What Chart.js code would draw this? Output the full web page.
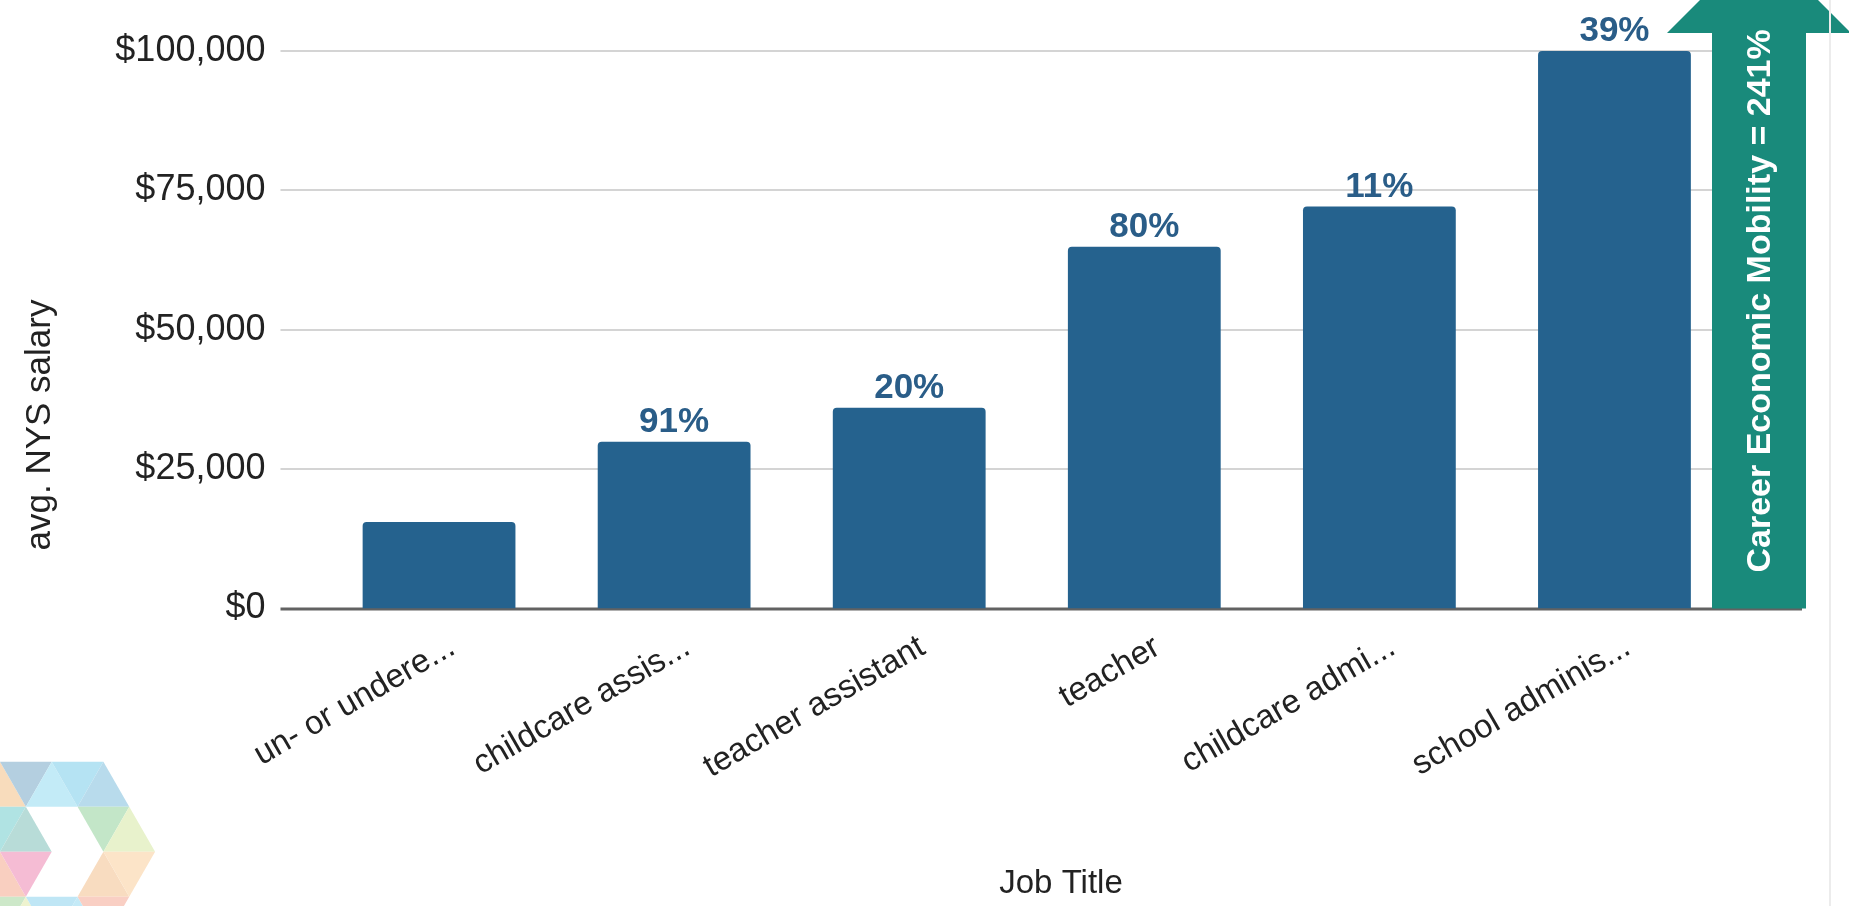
<!DOCTYPE html>
<html>
<head>
<meta charset="utf-8">
<script src="https://cdn.jsdelivr.net/npm/chart.js@4"></script>
<style>
  html, body { margin: 0; padding: 0; background: #fff; }
  #wrap { width: 1849px; height: 906px; position: relative; }
</style>
</head>
<body>
<div id="wrap"><canvas id="salaryChart"></canvas></div>
<script>
// data
const jobTitles = ['un- or undere...', 'childcare assis...', 'teacher assistant', 'teacher', 'childcare admi...', 'school adminis...'];
const avgSalary = [15500, 29900, 36000, 64900, 72100, 100000];
const stepChange = ['', '91%', '20%', '80%', '11%', '39%'];
const yTicks = [0, 25000, 50000, 75000, 100000];
const mobilityText = 'Career Economic Mobility = 241%';
const xTitle = 'Job Title';
const yTitle = 'avg. NYS salary';

const FONT = "'Liberation Sans', Arial, sans-serif";
const BAR = '#25628e';
const TEAL = '#198a7b';

// horizontal grid lines, a bit wider than the plot like the original
const gridLines = {
  id: 'gridLines',
  beforeDatasetsDraw(chart) {
    const { ctx, chartArea } = chart;
    const y = chart.scales.y;
    ctx.save();
    y.ticks.forEach(t => {
      const py = Math.round(y.getPixelForValue(t.value));
      const zero = t.value === 0;
      ctx.strokeStyle = zero ? '#626262' : '#d4d4d4';
      ctx.lineWidth = zero ? 3 : 2;
      ctx.beginPath();
      ctx.moveTo(chartArea.left - 41, py);
      ctx.lineTo(chartArea.right + 70, py);
      ctx.stroke();
    });
    ctx.restore();
  }
};

// % labels above bars, slanted category labels, arrow, axis titles, logo
const extras = {
  id: 'extras',
  afterDatasetsDraw(chart) {
    const { ctx, chartArea } = chart;
    const meta = chart.getDatasetMeta(0);
    const xs = chart.scales.x;
    const y0 = chart.scales.y.getPixelForValue(0);
    ctx.save();
    ctx.fillStyle = '#2a5d88';
    ctx.font = 'bold 35px ' + FONT;
    ctx.textAlign = 'center';
    ctx.textBaseline = 'alphabetic';
    meta.data.forEach((bar, i) => {
      if (stepChange[i]) ctx.fillText(stepChange[i], bar.x, bar.y - 10);
    });

    // category labels, slanted
    ctx.fillStyle = '#222';
    ctx.font = '33px ' + FONT;
    ctx.textAlign = 'right';
    ctx.textBaseline = 'top';
    xs.ticks.forEach((t, i) => {
      ctx.save();
      ctx.translate(xs.getPixelForTick(i) + 5, y0 + 22);
      ctx.rotate(-Math.PI / 6);
      ctx.fillText(xs.getLabelForValue(t.value), 0, 0);
      ctx.restore();
    });

    // mobility arrow
    const cx = chartArea.right + 27;
    const half = 47, headHalf = 92;
    const headBase = chartArea.top - 18;
    ctx.fillStyle = TEAL;
    ctx.fillRect(cx - half, headBase, half * 2, y0 - headBase);
    ctx.beginPath();
    ctx.moveTo(cx - headHalf, headBase);
    ctx.lineTo(cx, headBase - headHalf);
    ctx.lineTo(cx + headHalf, headBase);
    ctx.closePath();
    ctx.fill();
    ctx.save();
    ctx.translate(cx + 2, y0 - 36);
    ctx.rotate(-Math.PI / 2);
    ctx.fillStyle = '#ffffff';
    ctx.font = 'bold 34px ' + FONT;
    ctx.textAlign = 'left';
    ctx.textBaseline = 'middle';
    ctx.fillText(mobilityText, 0, 0);
    ctx.restore();

    // axis titles
    ctx.fillStyle = '#222';
    ctx.font = '33px ' + FONT;
    ctx.textAlign = 'center';
    ctx.textBaseline = 'middle';
    ctx.fillText(xTitle, 1061, 884);
    ctx.save();
    ctx.translate(40, 425);
    ctx.rotate(-Math.PI / 2);
    ctx.font = '35px ' + FONT;
    ctx.fillText(yTitle, 0, 0);
    ctx.restore();

    // faint frame line on the right
    ctx.strokeStyle = '#ececec';
    ctx.lineWidth = 2;
    ctx.beginPath();
    ctx.moveTo(1830, 0);
    ctx.lineTo(1830, 906);
    ctx.stroke();

    // pastel hexagon logo, bottom left
    const s = 51.7, u = s / 2, h = 45, ox = 0, oy = 761.7;
    const tris = [
      [0, 0, 'up', '#f8dcbc'], [0, 1, 'dn', '#b4cfe0'], [0, 2, 'up', '#c3ebf7'], [0, 3, 'dn', '#b5e3f3'], [0, 4, 'up', '#b8dbec'],
      [1, 0, 'dn', '#b0e3e3'], [1, 1, 'up', '#b8dcd8'], [1, 4, 'dn', '#c3e6c8'], [1, 5, 'up', '#e8f2cc'],
      [2, 0, 'up', '#f9cfc0'], [2, 1, 'dn', '#f5bcd4'], [2, 4, 'up', '#f8dcc0'], [2, 5, 'dn', '#fce4c8'],
      [3, 0, 'dn', '#cde8c9'], [3, 1, 'up', '#eef3cf'], [3, 2, 'dn', '#bfe6f5'], [3, 3, 'up', '#c4eaf7'], [3, 4, 'dn', '#f9cfc4']
    ];
    tris.forEach(([r, c, dir, col]) => {
      const x = ox + c * u, top = oy + r * h, bot = top + h;
      ctx.fillStyle = col;
      ctx.beginPath();
      if (dir === 'up') {
        ctx.moveTo(x, top); ctx.lineTo(x + u, bot); ctx.lineTo(x - u, bot);
      } else {
        ctx.moveTo(x - u, top); ctx.lineTo(x + u, top); ctx.lineTo(x, bot);
      }
      ctx.closePath();
      ctx.fill();
    });
    ctx.restore();
  }
};

new Chart(document.getElementById('salaryChart'), {
  type: 'bar',
  data: {
    labels: jobTitles,
    datasets: [{
      data: avgSalary,
      backgroundColor: BAR,
      borderRadius: { topLeft: 4, topRight: 4 },
      borderSkipped: 'bottom',
      categoryPercentage: 1,
      barPercentage: 0.65
    }]
  },
  options: {
    responsive: true,
    maintainAspectRatio: false,
    animation: false,
    layout: { padding: { top: 51, right: 117, left: 0, bottom: 0 } },
    plugins: { legend: { display: false }, tooltip: { enabled: false } },
    scales: {
      x: {
        grid: { display: false },
        border: { display: false },
        ticks: { display: false, autoSkip: false },
        afterFit(scale) { scale.height = 297.5; }
      },
      y: {
        min: yTicks[0],
        max: yTicks[yTicks.length - 1],
        // invisible ticks push the labels left without inflating the top padding
        grid: { display: false, drawTicks: true, tickLength: 48, tickColor: 'rgba(0,0,0,0)' },
        border: { display: false },
        afterBuildTicks(scale) { scale.ticks = yTicks.map(v => ({ value: v })); },
        ticks: {
          color: '#222',
          font: { family: FONT, size: 36 },
          padding: 8,
          callback: v => '$' + v.toLocaleString('en-US')
        },
        afterFit(scale) { scale.width = 321.5; }
      }
    }
  },
  plugins: [gridLines, extras]
});
</script>
</body>
</html>
